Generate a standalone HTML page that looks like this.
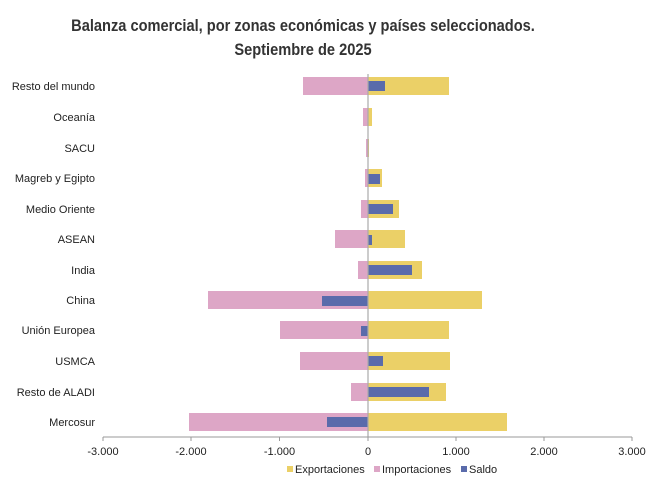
<!DOCTYPE html>
<html><head><meta charset="utf-8"><style>
body{margin:0;background:#fff}
svg text{font-family:"Liberation Sans",Arial,sans-serif}
</style></head><body>
<svg width="662" height="488" viewBox="0 0 662 488" xmlns="http://www.w3.org/2000/svg">
<rect width="662" height="488" fill="#fff"/>
<text x="303" y="31" text-anchor="middle" font-size="17" font-weight="bold" fill="#333" transform="translate(303,0) scale(0.86,1) translate(-303,0)">Balanza comercial, por zonas económicas y países seleccionados.</text>
<text x="303" y="55" text-anchor="middle" font-size="17" font-weight="bold" fill="#333" transform="translate(303,0) scale(0.86,1) translate(-303,0)">Septiembre de 2025</text>
<g font-size="11" fill="#222" text-anchor="end">
<text x="95" y="90">Resto del mundo</text>
<text x="95" y="121">Oceanía</text>
<text x="95" y="152">SACU</text>
<text x="95" y="182">Magreb y Egipto</text>
<text x="95" y="213">Medio Oriente</text>
<text x="95" y="243">ASEAN</text>
<text x="95" y="274">India</text>
<text x="95" y="304">China</text>
<text x="95" y="334">Unión Europea</text>
<text x="95" y="365">USMCA</text>
<text x="95" y="396">Resto de ALADI</text>
<text x="95" y="426">Mercosur</text>
</g>
<g>
<!-- imports -->
<g fill="#DDA6C6">
<rect x="303" y="77" width="65" height="18"/>
<rect x="363" y="108" width="5" height="18"/>
<rect x="366" y="139" width="2" height="18"/>
<rect x="365" y="169" width="3" height="18"/>
<rect x="361" y="200" width="7" height="18"/>
<rect x="335" y="230" width="33" height="18"/>
<rect x="358" y="261" width="10" height="18"/>
<rect x="208" y="291" width="160" height="18"/>
<rect x="280" y="321" width="88" height="18"/>
<rect x="300" y="352" width="68" height="18"/>
<rect x="351" y="383" width="17" height="18"/>
<rect x="189" y="413" width="179" height="18"/>
</g>
<g fill="#EBD067">
<rect x="368" y="77" width="81" height="18"/>
<rect x="368" y="108" width="4" height="18"/>
<rect x="368" y="139" width="1" height="18"/>
<rect x="368" y="169" width="14" height="18"/>
<rect x="368" y="200" width="31" height="18"/>
<rect x="368" y="230" width="37" height="18"/>
<rect x="368" y="261" width="54" height="18"/>
<rect x="368" y="291" width="114" height="18"/>
<rect x="368" y="321" width="81" height="18"/>
<rect x="368" y="352" width="82" height="18"/>
<rect x="368" y="383" width="78" height="18"/>
<rect x="368" y="413" width="139" height="18"/>
</g>
<g fill="#5A6BAB">
<rect x="368" y="81" width="17" height="10"/>
<rect x="368" y="174" width="12" height="10"/>
<rect x="368" y="204" width="25" height="10"/>
<rect x="368" y="235" width="4" height="10"/>
<rect x="368" y="265" width="44" height="10"/>
<rect x="322" y="296" width="46" height="10"/>
<rect x="361" y="326" width="7" height="10"/>
<rect x="368" y="356" width="15" height="10"/>
<rect x="368" y="387" width="61" height="10"/>
<rect x="327" y="417" width="41" height="10"/>
</g>
</g>
<line x1="368" y1="74" x2="368" y2="437" stroke="#aaa" stroke-width="1.2"/>
<line x1="103" y1="437" x2="632" y2="437" stroke="#999" stroke-width="1"/>
<g stroke="#999"><line x1="103" y1="437" x2="103" y2="441"/><line x1="191" y1="437" x2="191" y2="441"/><line x1="279.5" y1="437" x2="279.5" y2="441"/><line x1="368" y1="437" x2="368" y2="441"/><line x1="456" y1="437" x2="456" y2="441"/><line x1="544" y1="437" x2="544" y2="441"/><line x1="632" y1="437" x2="632" y2="441"/></g>
<g font-size="11" fill="#222" text-anchor="middle">
<text x="103" y="455">-3.000</text><text x="191" y="455">-2.000</text><text x="279.5" y="455">-1.000</text><text x="368" y="455">0</text><text x="456" y="455">1.000</text><text x="544" y="455">2.000</text><text x="632" y="455">3.000</text>
</g>
<g font-size="11" fill="#222">
<rect x="287" y="466" width="6" height="6" fill="#EBD067"/><text x="295" y="473">Exportaciones</text>
<rect x="374" y="466" width="6" height="6" fill="#DDA6C6"/><text x="382" y="473">Importaciones</text>
<rect x="461" y="466" width="6" height="6" fill="#5A6BAB"/><text x="469" y="473">Saldo</text>
</g>
</svg>
</body></html>
